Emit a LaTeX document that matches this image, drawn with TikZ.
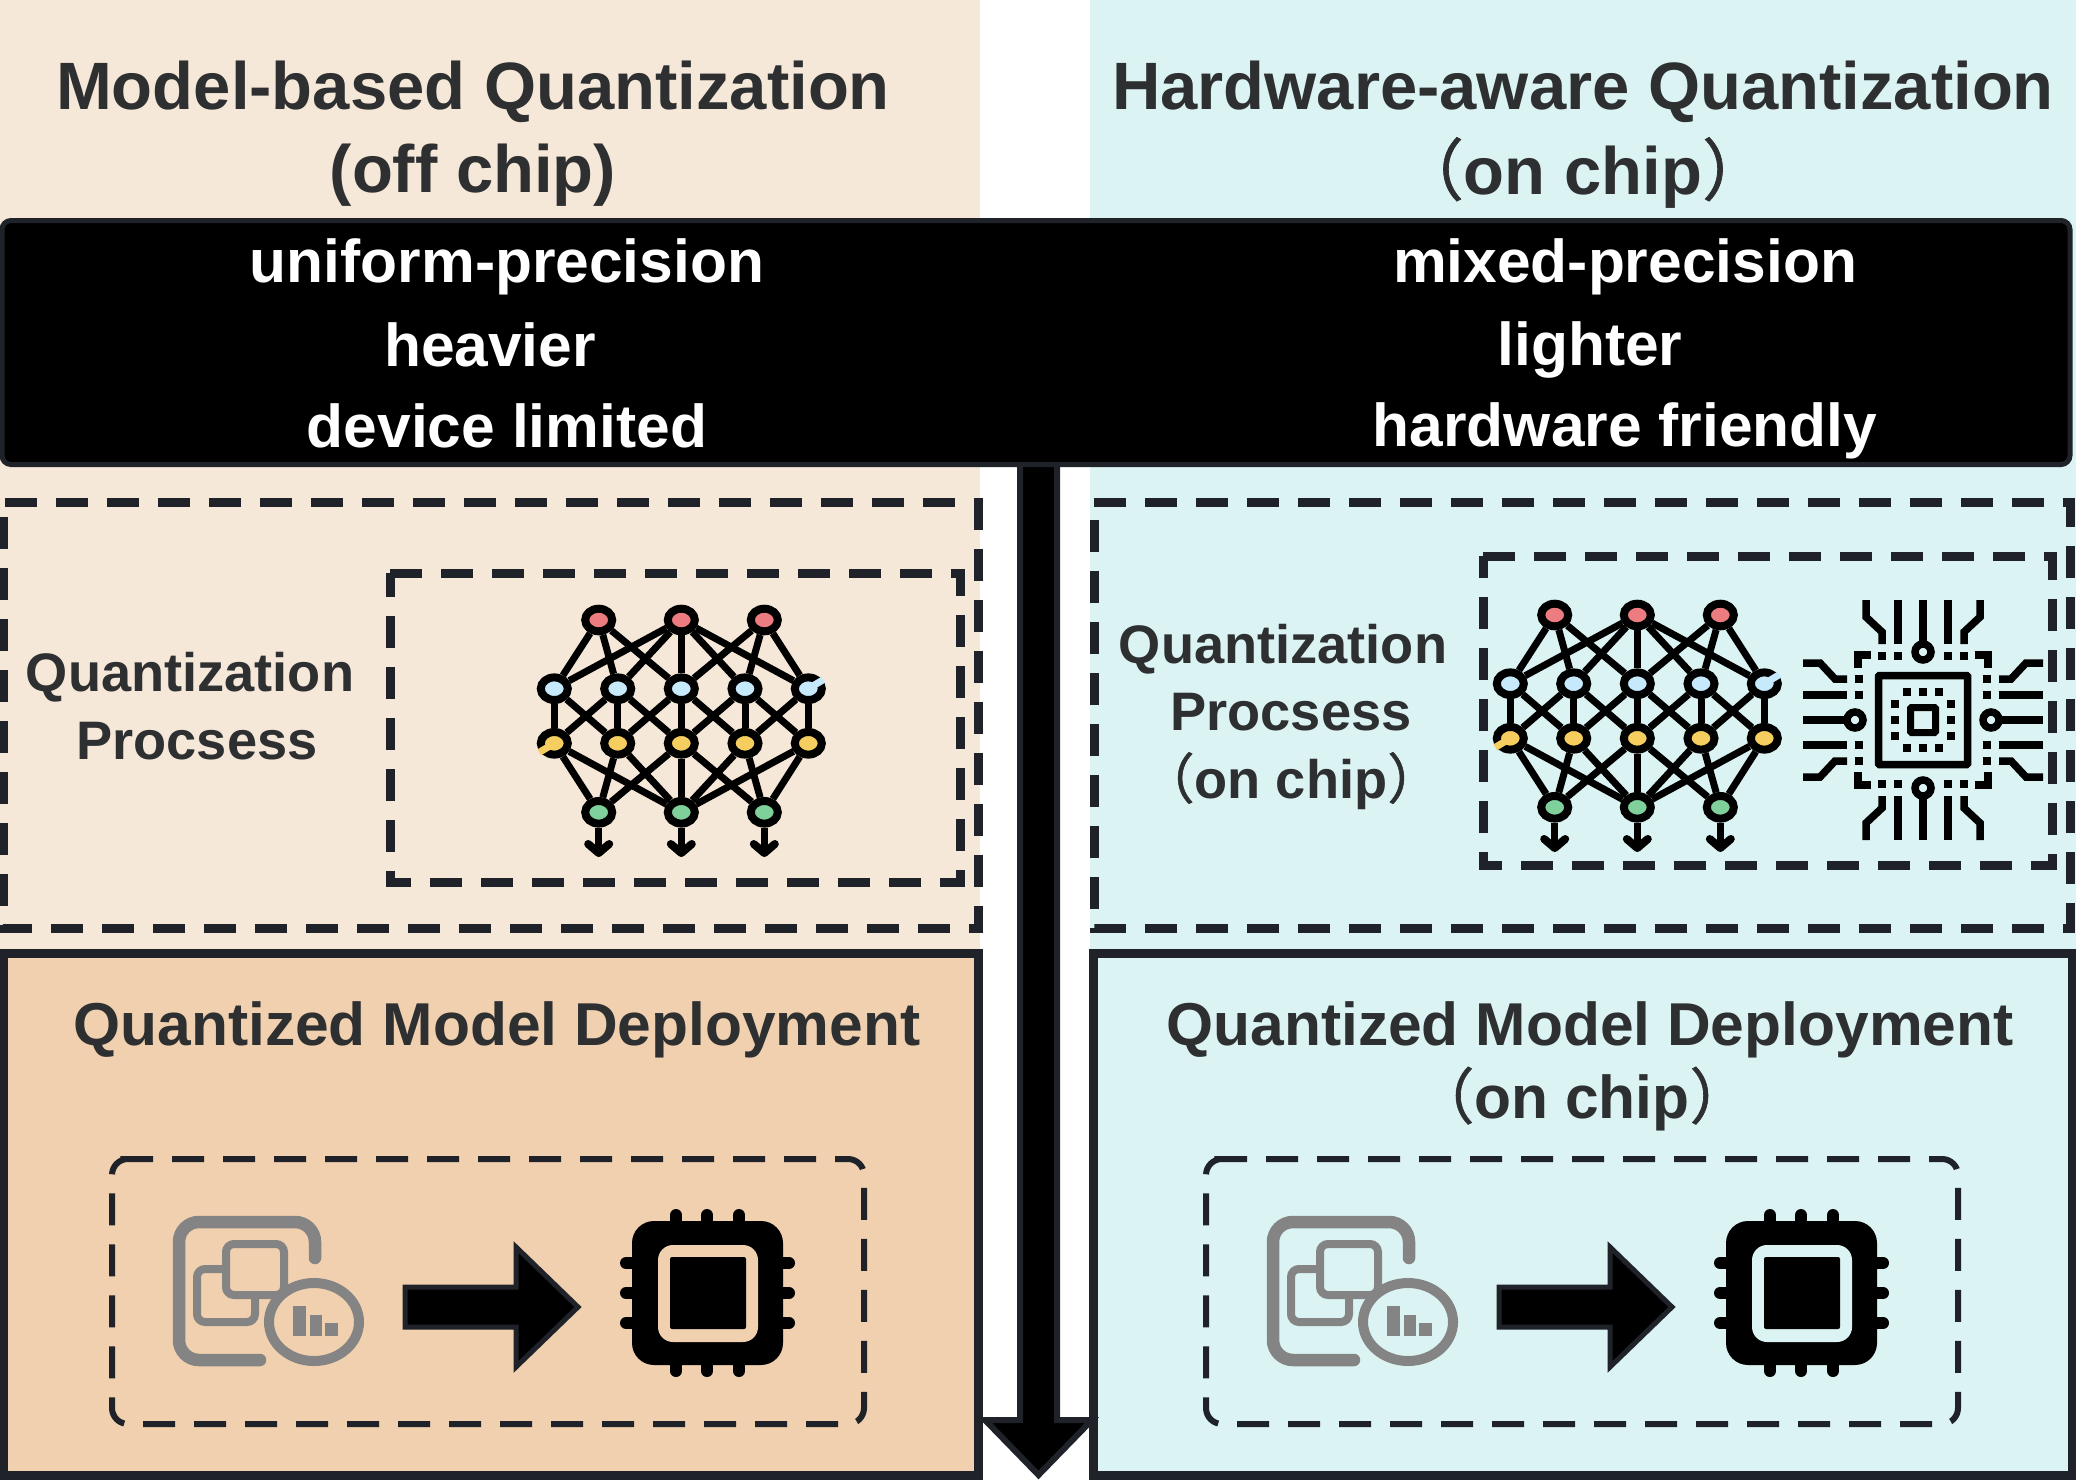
\documentclass[tikz,border=0pt]{standalone}
\usepackage{fontspec}
\setmainfont{Liberation Sans}
\newfontfamily\cjk[FakeBold=1]{Noto Sans CJK SC}
\usetikzlibrary{positioning,shapes.geometric}
\definecolor{peachbg}{HTML}{F6E8D9}
\definecolor{peachdeep}{HTML}{F0D0AE}
\definecolor{bluebg}{HTML}{DBF3F3}
\definecolor{inkline}{HTML}{1F2329}
\definecolor{inktext}{HTML}{2D2F31}
\definecolor{icongray}{HTML}{848484}
\definecolor{redn}{HTML}{EC7C80}
\definecolor{bluen}{HTML}{C6E9FB}
\definecolor{yellown}{HTML}{F6CD5F}
\definecolor{greenn}{HTML}{7FD09B}
\newcommand{\zh}[1]{{\cjk\mdseries #1}}

\begin{document}
\begin{tikzpicture}[
    x=1pt, y=-1pt,
    headtext/.style={text=inktext, font=\fontsize{67}{67}\selectfont\bfseries, inner sep=0pt, anchor=center},
    whitetext/.style={text=white, font=\fontsize{60.5}{60.5}\selectfont\bfseries, inner sep=0pt, anchor=center},
    proctext/.style={text=inktext, font=\fontsize{54.2}{54.2}\selectfont\bfseries, inner sep=0pt, anchor=center},
    deploytext/.style={text=inktext, font=\fontsize{60.5}{60.5}\selectfont\bfseries, inner sep=0pt, anchor=center},
    dashbox/.style={draw=inkline, line width=9pt, dash pattern=on 32pt off 19pt},
    thinbox/.style={draw=inkline, line width=6pt, dash pattern=on 32pt off 19pt, dash phase=25pt, rounded corners=16pt},
    deploybox/.style={draw=inkline, line width=9pt, minimum width=975.5pt, minimum height=521.5pt, anchor=north west, inner sep=0pt, outer sep=0pt},
    netnode/.style={ellipse, draw=black, line width=8pt, minimum width=27pt, minimum height=22.6pt, inner sep=0pt},
    netedge/.style={black, line width=7pt},
    pics/neuralnet/.style={code={
        \foreach \n/\px in {1/598.7,2/681.3,3/764.3} {
            \node (T\n) [netnode, fill=redn] at (\px,620) {};
            \node (B\n) [netnode, fill=greenn] at (\px,812.3) {};
            \coordinate (E\n) at (\px,853);
            \draw [netedge] (B\n) -- (E\n);
            \draw [netedge, line width=8pt, line cap=round, line join=round] ([shift={(-10.5,-9)}]E\n) -- (E\n) -- ([shift={(10.5,-9)}]E\n);
        }
        \foreach \n/\px in {1/554.3,2/617.7,3/681.3,4/745,5/808.3} {
            \node (U\n) [netnode, fill=bluen] at (\px,688.7) {};
            \node (V\n) [netnode, fill=yellown] at (\px,743.3) {};
        }
        \foreach \a/\b in {1/1,1/2,1/3,2/1,2/2,2/3,2/4,2/5,3/3,3/4,3/5} {
            \draw [netedge] (T\a) -- (U\b);
        }
        \foreach \a/\b in {1/1,1/2,2/1,2/2,2/3,3/2,3/3,3/4,4/3,4/4,4/5,5/4,5/5} {
            \draw [netedge] (U\a) -- (V\b);
        }
        \foreach \a/\b in {1/1,1/2,2/1,2/2,3/1,3/2,3/3,4/2,4/3,5/2,5/3} {
            \draw [netedge] (V\a) -- (B\b);
        }
        \draw [bluen, line width=7pt] (U5.center) -- +(15,-9);
        \draw [yellown, line width=7pt] (V1.center) -- +(-15,9);
    }},
    pics/chiparm/.style={code={
        \draw [black, line width=7.5pt] (-25,-120) -- (-25,-76);
        \draw [black, line width=7.5pt] (25,-120) -- (25,-76);
        \draw [black, line width=7.5pt] (0,-120) -- (0,-76);
        \draw [black, line width=7.5pt] (0,-68) circle (8pt);
        \draw [black, line width=7.5pt] (-57,-120) -- (-57,-103) -- (-41,-88) -- (-41,-76);
        \draw [black, line width=7.5pt] (57,-120) -- (57,-103) -- (41,-88) -- (41,-76);
        \fill [black] (-45,-68) rectangle (-37,-60);
        \fill [black] (-29,-68) rectangle (-21,-60);
        \fill [black] (21,-68) rectangle (29,-60);
        \fill [black] (37,-68) rectangle (45,-60);
        \draw [black, line width=7.5pt] (-65,-52) -- (-65,-65) -- (-52,-65);
        \fill [black] (-20,-32) rectangle (-12,-24);
        \fill [black] (-4,-32) rectangle (4,-24);
        \fill [black] (12,-32) rectangle (20,-24);
    }},
    pics/chipboard/.style={code={
        \foreach \a in {0,90,180,270} {
            \pic [rotate=\a] {chiparm};
        }
        \draw [black, line width=7.5pt, rounded corners=1pt] (-44.5,-44.5) rectangle (44.5,44.5);
        \draw [black, line width=7pt, rounded corners=1pt] (-12.5,-12.5) rectangle (12.5,12.5);
    }},
    pics/modelchip/.style={code={
        \draw [icongray, line width=12.5pt, line cap=round, rounded corners=20pt] (315,1258) -- (315,1222) -- (179,1222) -- (179,1360) -- (260,1360);
        \draw [icongray, line width=8pt, rounded corners=8pt] (197,1269) rectangle (255,1322);
        \draw [icongray, line width=8pt, rounded corners=8pt, fill=#1] (226,1244) rectangle (284,1295);
        \draw [icongray, line width=10pt, fill=#1] (314,1322) ellipse [x radius=45pt, y radius=39pt];
        \fill [icongray] (293,1306) rectangle (306,1336);
        \fill [icongray] (309.5,1315) rectangle (322,1336);
        \fill [icongray] (325,1323) rectangle (338,1336);
        \draw [draw=inkline, fill=black, line width=5pt, miter limit=20] (405,1287) -- (516,1287) -- (516,1247) -- (578,1307) -- (516,1367) -- (516,1327) -- (405,1327) -- cycle;
        \foreach \px in {676,707,739} {
            \draw [black, line width=12pt, line cap=round] (\px,1215) -- (\px,1371);
        }
        \foreach \py in {1263,1293,1323} {
            \draw [black, line width=12pt, line cap=round] (626,\py) -- (789,\py);
        }
        \fill [black, rounded corners=22pt] (632,1221) rectangle (783,1365);
        \fill [#1, rounded corners=15pt] (658,1245) rectangle (758,1342);
        \fill [black, rounded corners=2pt] (670,1257) rectangle (746,1329);
    }}
]
\fill [peachbg] (0,0) rectangle (980,955);
\fill [bluebg] (1090,0) rectangle (2076,955);
\path [use as bounding box] (0,0) rectangle (2076,1482);

\draw [dashbox, dash phase=49pt] (3,502) -- (978.5,502) -- (978.5,928) -- (3,928) -- cycle;
\draw [dashbox] (1094,502) -- (2070,502) -- (2070,928) -- (1094,928) -- cycle;
\draw [dashbox] (390,573) -- (960,573) -- (960,882) -- (390,882) -- cycle;
\draw [dashbox] (1483,556) -- (2052,556) -- (2052,865) -- (1483,865) -- cycle;

\node (Lead) [deploybox, fill=peachdeep] at (3,953.5) {};
\node (Read) [deploybox, fill=bluebg, minimum width=978.5pt] at (1093.5,953.5) {};
\draw [thinbox] (130,1159) -- (864,1159) -- (864,1424) -- (112,1424) -- (112,1159) -- cycle;
\draw [thinbox] (1224,1159) -- (1958,1159) -- (1958,1424) -- (1206,1424) -- (1206,1159) -- cycle;

\draw [draw=inkline, fill=black, line width=6pt] (1020,460) -- (1057,460) -- (1057,1420) -- (1092,1420) -- (1038.5,1475) -- (985,1420) -- (1020,1420) -- cycle;

\node (Top) [draw=inkline, fill=black, line width=5pt, rounded corners=9pt, minimum width=2068pt, minimum height=244pt, anchor=north west, inner sep=0pt, outer sep=0pt] at (2,220.5) {};

\node (H1) [headtext] at (473,92) {Model-based Quantization};
\node (H2) [headtext] at (473,175) {(off chip)};
\node (H3) [headtext] at (1583,92) {Hardware-aware Quantization};
\node (H4) [headtext] at (1583,173) {\zh{（}on chip\zh{）}};

\node (W1) [whitetext] at (507,267) {uniform-precision};
\node (W2) [whitetext] at (490,345) {heavier};
\node (W3) [whitetext] at (507,426) {device limited};
\node (W4) [whitetext] at (1625,267) {mixed-precision};
\node (W5) [whitetext] at (1590,350) {lighter};
\node (W6) [whitetext] at (1625,431) {hardware friendly};

\node (P1) [proctext] at (190,677) {Quantization};
\node (P2) [proctext] at (197,741) {Procsess};
\node (P3) [proctext] at (1283,649) {Quantization};
\node (P4) [proctext] at (1291,712) {Procsess};
\node (P5) [proctext] at (1291,781) {\zh{（}on chip\zh{）}};

\node (D1) [deploytext] at (497,1030) {Quantized Model Deployment};
\node (D2) [deploytext] at (1590,1030) {Quantized Model Deployment};
\node (D3) [deploytext] at (1582,1099) {\zh{（}on chip\zh{）}};

\pic (L) at (0,0) {neuralnet};
\pic (R) at (956,-5) {neuralnet};
\pic (C) at (1923,720) {chipboard};
\pic (F) at (0,0) {modelchip=peachdeep};
\pic (G) at (1094,0) {modelchip=bluebg};
\end{tikzpicture}
\end{document}
